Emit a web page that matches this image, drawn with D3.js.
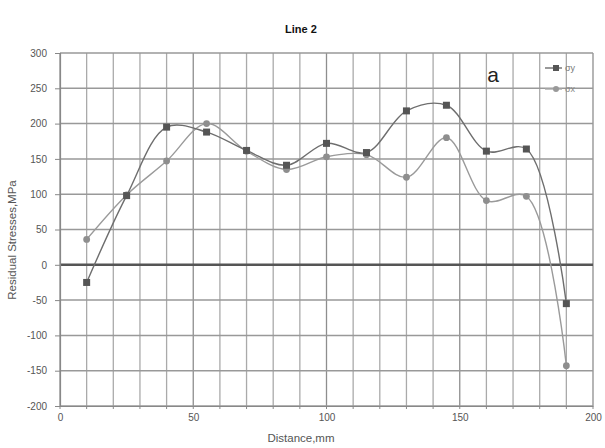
<!DOCTYPE html>
<html><head><meta charset="utf-8">
<script src="https://cdn.jsdelivr.net/npm/d3@7"></script>
<style>body{margin:0;background:#fff}svg{display:block}text{font-family:"Liberation Sans",Arial,sans-serif}</style>
</head><body>
<script>
const distances = [10,25,40,55,70,85,100,115,130,145,160,175,190];
const sigmaY = [-25,98,195,188,162,141,172,159,218,226,161,164,-55];
const sigmaX = [36,99,147,200,161,135,153,156,124,180,91,97,-143];
const xTicks = [0,50,100,150,200];
const yTicks = [300,250,200,150,100,50,0,-50,-100,-150,-200];
const seriesNames = ["σy","σx"];

const W=605,H=448;
const svg=d3.select("body").append("svg").attr("width",W).attr("height",H);
const x=d3.scaleLinear().domain([0,200]).range([60,593]);
const y=d3.scaleLinear().domain([-200,300]).range([406,53]);

// grid
const g=svg.append("g");
g.selectAll(".vg").data(d3.range(0,201,10)).join("line")
 .attr("x1",d=>x(d)).attr("x2",d=>x(d)).attr("y1",y(300)).attr("y2",y(-200))
 .attr("stroke",d=>d%50===0?"#8e8e8e":"#aaaaaa").attr("stroke-width",1.3);
g.selectAll(".hg").data(yTicks).join("line")
 .attr("x1",x(0)).attr("x2",x(200)).attr("y1",d=>y(d)).attr("y2",d=>y(d))
 .attr("stroke",d=>d===0?"#555":"#999").attr("stroke-width",d=>d===0?2.6:1.5);

// axes
const fmt=d=>String(d);
const yAxis=d3.axisLeft(y).tickValues(yTicks).tickSize(5).tickPadding(8).tickFormat(fmt);
const ya=svg.append("g").attr("transform",`translate(${x(0)},0)`).call(yAxis);
ya.select(".domain").attr("stroke","#888").attr("stroke-width",1.2);
ya.selectAll(".tick line").attr("stroke","#888");
ya.selectAll("text").attr("fill","#555").style("font-size","10px");
const xAxis=d3.axisBottom(x).tickValues(xTicks).tickSize(0).tickPadding(8).tickFormat(fmt);
const xa=svg.append("g").attr("transform",`translate(0,${y(-200)})`).call(xAxis);
xa.select(".domain").attr("stroke","#888").attr("stroke-width",1.2);
xa.selectAll("text").attr("fill","#555").style("font-size","10px");
svg.append("g").selectAll("line").data(d3.range(0,201,10)).join("line")
 .attr("x1",d=>x(d)).attr("x2",d=>x(d)).attr("y1",y(-200)).attr("y2",y(-200)+3).attr("stroke","#888");

// lines
const lineY=d3.line().x((d,i)=>x(distances[i])).y(d=>y(d)).curve(d3.curveCatmullRom.alpha(0.5));
svg.append("path").datum(sigmaX).attr("d",lineY).attr("fill","none").attr("stroke","#9a9a9a").attr("stroke-width",1.4);
svg.append("path").datum(sigmaY).attr("d",lineY).attr("fill","none").attr("stroke","#6e6e6e").attr("stroke-width",1.4);
svg.selectAll(".cx").data(sigmaX).join("circle")
 .attr("cx",(d,i)=>x(distances[i])).attr("cy",d=>y(d)).attr("r",3.4).attr("fill","#8e8e8e");
svg.selectAll(".sq").data(sigmaY).join("rect")
 .attr("x",(d,i)=>x(distances[i])-3.5).attr("y",d=>y(d)-3.5).attr("width",7).attr("height",7).attr("fill","#555");

// legend
const lg=svg.append("g");
lg.append("line").attr("x1",545).attr("x2",562).attr("y1",68).attr("y2",68).attr("stroke","#6e6e6e").attr("stroke-width",1.4);
lg.append("rect").attr("x",553).attr("y",65).attr("width",6).attr("height",6).attr("fill","#555");
lg.append("text").attr("x",565).attr("y",71).text(seriesNames[0]).attr("fill","#777").style("font-size","9px");
lg.append("line").attr("x1",545).attr("x2",562).attr("y1",89).attr("y2",89).attr("stroke","#aaa").attr("stroke-width",1.4);
lg.append("circle").attr("cx",556).attr("cy",89).attr("r",3).attr("fill","#999");
lg.append("text").attr("x",565).attr("y",92).text(seriesNames[1]).attr("fill","#888").style("font-size","9px");

svg.append("text").attr("x",493).attr("y",82).attr("text-anchor","middle").text("a").style("font-size","21px").attr("fill","#222");

// titles
svg.append("text").attr("x",301).attr("y",33).attr("text-anchor","middle").text("Line 2").style("font-size","11px").style("font-weight","bold").attr("fill","#111");
svg.append("text").attr("x",301).attr("y",442).attr("text-anchor","middle").text("Distance,mm").style("font-size","11.5px").attr("fill","#555");
svg.append("text").attr("transform","translate(16,240) rotate(-90)").attr("text-anchor","middle").text("Residual Stresses,MPa").style("font-size","11.5px").attr("fill","#555");
</script>
</body></html>
